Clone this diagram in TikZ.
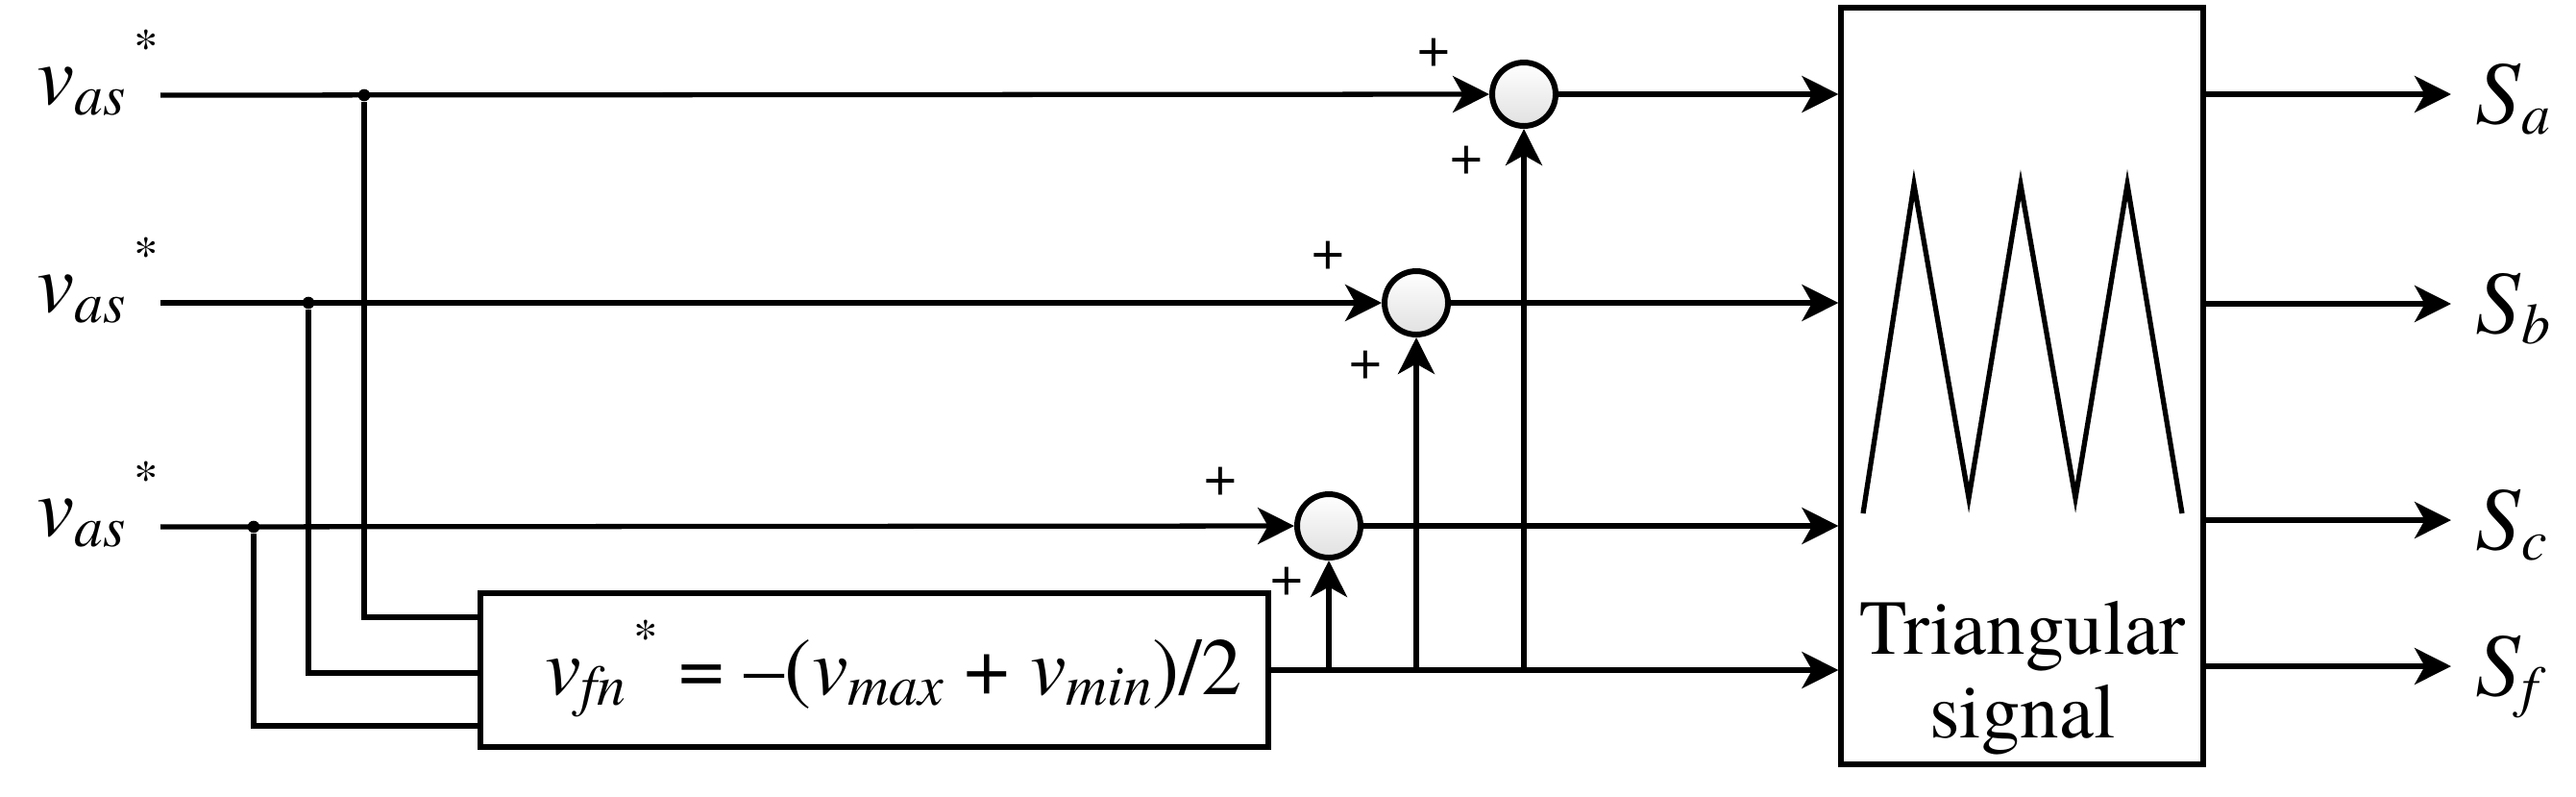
\documentclass[tikz,border=0pt]{standalone}
\usepackage{fontspec}
\setmainfont{TeX Gyre Termes}
\usetikzlibrary{arrows.meta}

\newcommand{\vsub}[2]{\textit{#1}\raisebox{-3.4pt}{\fontsize{17}{17}\selectfont\textit{#2}}}
\newcommand{\vstar}{\hspace{0.1em}\raisebox{12pt}{\fontsize{14.5}{14.5}\selectfont *}}

\begin{document}
\begin{tikzpicture}[
  wire/.style={line width=1.5pt},
  sig/.style={wire, -{Stealth[length=10.8pt, width=10.8pt, inset=3pt]}},
  sumnode/.style={circle, draw, line width=1.7pt, minimum size=0.66cm,
    inner sep=0pt, top color=white, bottom color=black!12},
  blockbox/.style={draw, line width=1.5pt, inner sep=0pt},
  jdot/.style={circle, fill, inner sep=0pt, minimum size=3.6pt},
  plus/.style={font=\fontsize{17}{17}\selectfont, inner sep=0pt},
  biglabel/.style={font=\fontsize{25}{30}\selectfont, inner sep=0pt},
  outlabel/.style={font=\fontsize{26.5}{30}\selectfont, inner sep=0pt}
]
  \useasboundingbox (0,0) rectangle (26.81,-8.28);

  % Reference inputs
  \node[biglabel, anchor=base east] (va1) at (1.66,-1.08) {\vsub{v}{as}\vstar};
  \node[biglabel, anchor=base east] (va2) at (1.66,-3.24) {\vsub{v}{as}\vstar};
  \node[biglabel, anchor=base east] (va3) at (1.66,-5.57) {\vsub{v}{as}\vstar};
  \coordinate (in1) at (1.67,-0.99);
  \coordinate (in2) at (1.67,-3.15);
  \coordinate (in3) at (1.67,-5.48);
  \node[jdot] (j1) at (3.79,-0.99) {};
  \node[jdot] (j2) at (3.21,-3.15) {};
  \node[jdot] (j3) at (2.64,-5.48) {};

  % Zero-sequence block
  \node[blockbox, minimum width=8.2cm, minimum height=1.6cm] (vfn) at (9.1,-6.97) {};
  \node[anchor=base, font=\fontsize{24}{28}\selectfont, inner sep=0pt] (vfntxt) at (9.30,-7.22)
    {\vsub{v}{fn}\vstar{} = --(\vsub{v}{max} + \vsub{v}{min})/2};
  \draw[wire] (j1) |- ([yshift=0.55cm]vfn.west);
  \draw[wire] (j2) |- ([yshift=-0.03cm]vfn.west);
  \draw[wire] (j3) |- ([yshift=-0.58cm]vfn.west);

  % Summing points
  \node[sumnode] (s1) at (15.86,-0.98) {};
  \node[sumnode] (s2) at (14.74,-3.15) {};
  \node[sumnode] (s3) at (13.83,-5.47) {};
  \node[plus] (p1a) at (14.92,-0.55) {+};
  \node[plus] (p1b) at (15.26,-1.67) {+};
  \node[plus] (p2a) at (13.82,-2.66) {+};
  \node[plus] (p2b) at (14.21,-3.80) {+};
  \node[plus] (p3a) at (12.70,-5.01) {+};
  \node[plus] (p3b) at (13.39,-6.05) {+};
  \draw[sig] (in1) -- (s1);
  \draw[sig] (in2) -- (s2);
  \draw[sig] (in3) -- (s3);
  \draw[sig] (s1 |- vfn) -- (s1);
  \draw[sig] (s2 |- vfn) -- (s2);
  \draw[sig] (s3 |- vfn) -- (s3);

  % Carrier block
  \node[blockbox, minimum width=3.77cm, minimum height=7.87cm] (tri) at (21.045,-4.015) {};
  \draw[wire] (19.39,-5.34) -- (19.92,-1.92) -- (20.49,-5.18) -- (21.03,-1.92)
    -- (21.60,-5.18) -- (22.14,-1.92) -- (22.71,-5.34);
  \node[anchor=base, font=\fontsize{23}{26}\selectfont, inner sep=0pt] (trit1) at (21.05,-6.80) {Triangular};
  \node[anchor=base, font=\fontsize{23}{26}\selectfont, inner sep=0pt] (trit2) at (21.05,-7.67) {signal};
  \draw[sig] (s1) -- (s1 -| tri.west);
  \draw[sig] (s2) -- (s2 -| tri.west);
  \draw[sig] (s3) -- (s3 -| tri.west);
  \draw[sig] (vfn) -- (vfn -| tri.west);

  % Switching signals
  \coordinate (oa) at (25.51,-0.98);
  \coordinate (ob) at (25.51,-3.16);
  \coordinate (oc) at (25.51,-5.41);
  \coordinate (of) at (25.51,-6.93);
  \draw[sig] (oa -| tri.east) -- (oa);
  \draw[sig] (ob -| tri.east) -- (ob);
  \draw[sig] (oc -| tri.east) -- (oc);
  \draw[sig] (of -| tri.east) -- (of);
  \node[outlabel, anchor=base west] (sa) at (25.76,-1.28) {\vsub{S}{a}};
  \node[outlabel, anchor=base west] (sb) at (25.76,-3.46) {\vsub{S}{b}};
  \node[outlabel, anchor=base west] (sc) at (25.76,-5.71) {\vsub{S}{c}};
  \node[outlabel, anchor=base west] (sf) at (25.76,-7.23) {\vsub{S}{f}};
\end{tikzpicture}
\end{document}
